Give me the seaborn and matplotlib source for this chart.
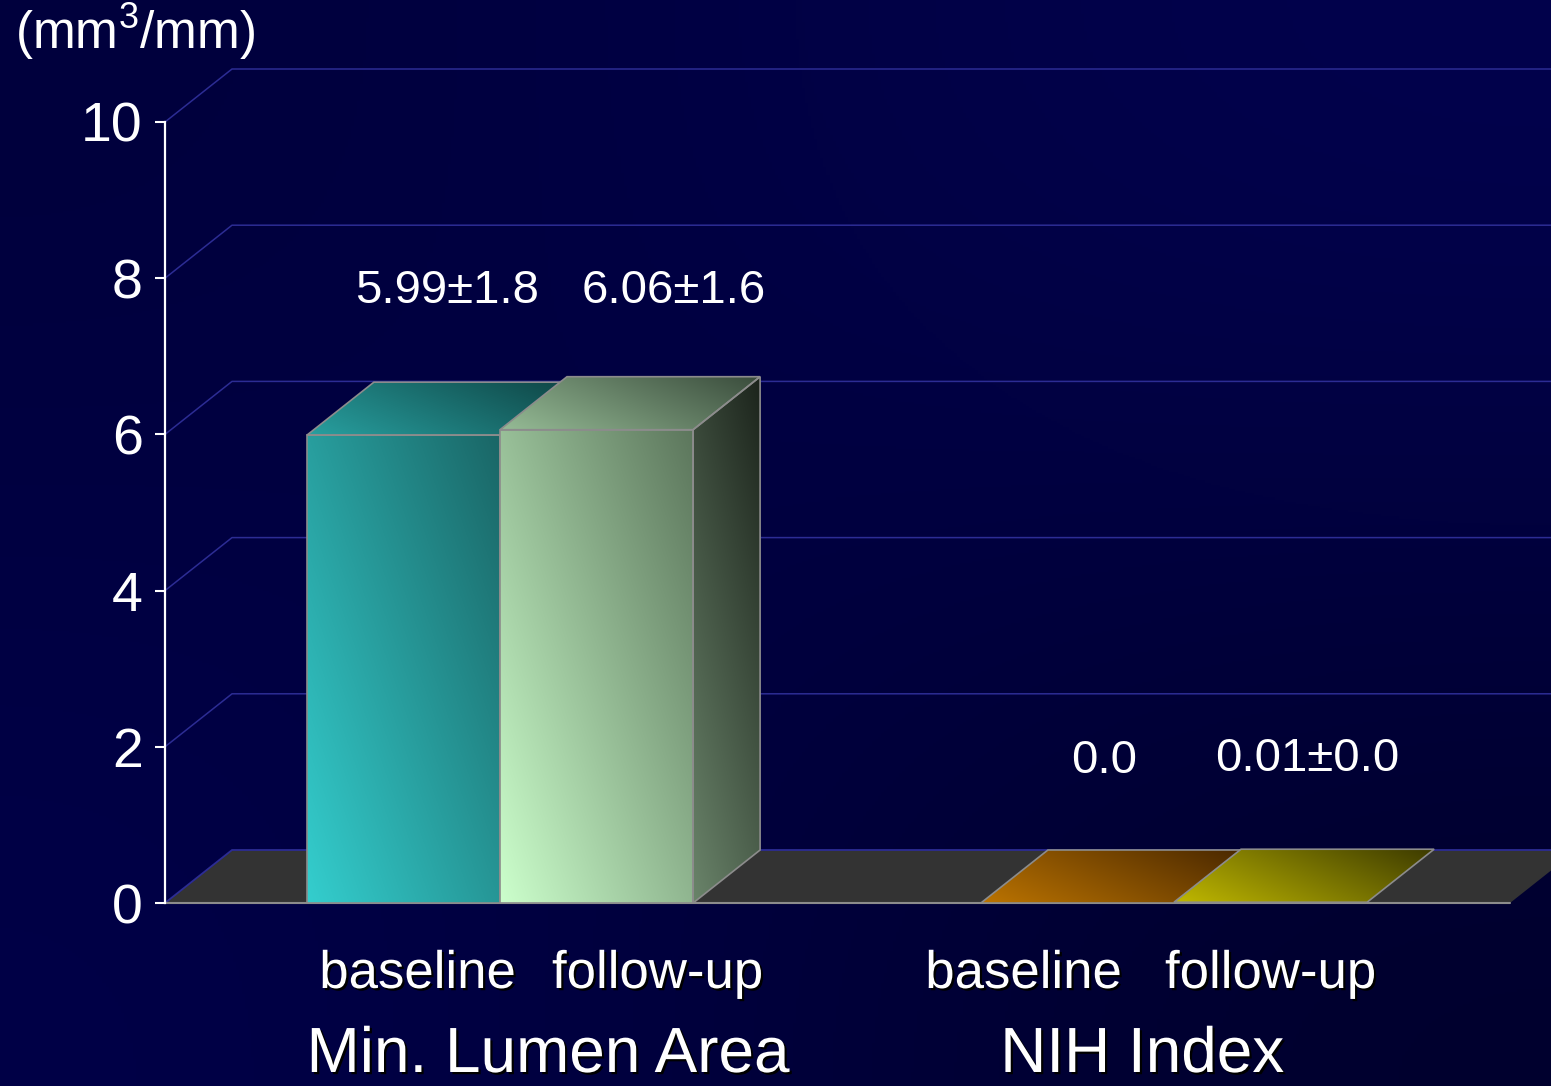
import numpy as np
import pandas as pd
import matplotlib
matplotlib.use("Agg")
import matplotlib.pyplot as plt
import matplotlib.patheffects as pe
from matplotlib.patches import Polygon, Rectangle
from matplotlib.colors import to_rgb
import seaborn as sns

# ---- data ---------------------------------------------------------------
groups = ["Min. Lumen Area", "NIH Index"]
times = ["baseline", "follow-up"]
mla_values = [5.99, 6.06]
nih_values = [0.0, 0.01]
value_labels = ["5.99\u00b11.8", "6.06\u00b11.6", "0.0", "0.01\u00b10.0"]
y_ticks = [0, 2, 4, 6, 8, 10]
unit_label = "(mm$^{3}$/mm)"

df = pd.DataFrame({
    "group": np.repeat(groups, len(times)),
    "time": times * len(groups),
    "value": mla_values + nih_values,
})

# ---- style --------------------------------------------------------------
sns.set_theme(style="white")
plt.rcParams["font.family"] = ["Liberation Sans", "DejaVu Sans"]
plt.rcParams["mathtext.fontset"] = "custom"
plt.rcParams["mathtext.rm"] = "Liberation Sans"
plt.rcParams["mathtext.default"] = "regular"

FIG_W, FIG_H = 1551, 1086
DEPTH_PX = (67, 53)            # receding offset of the pseudo-3D depth
GRID = "#2c2c94"
EDGE = "#8c8c8c"
FLOOR = "#333333"

# per-bar gradient colours (light end, dark end)
FRONT = [("#34cece", "#1a6666"), ("#ccffcc", "#5c765c"),
         ("#c47a00", "#4a2800"), ("#c4bc00", "#3a3800")]
TOP = [("#28a0a0", "#0f4646"), ("#96bc96", "#3a4c3c"),
       ("#bc7400", "#4a2800"), ("#c0b800", "#3c3a00")]
SIDE = [("#1f7a7a", "#0a3030"), ("#6a846a", "#1c241c"),
        ("#7a4a00", "#2a1600"), ("#7a7400", "#262400")]

value_nudge_px = [44, 77, 27, 37]
value_rise_px = [132, 127, 130, 131]
cat_nudge_px = [14, 61, -54, 0]
cat_drop_px = 85
group_nudge_px = [48, -32]
group_drop_px = 169

fig = plt.figure(figsize=(FIG_W / 100, FIG_H / 100), dpi=100)

# dark navy backdrop
bg = fig.add_axes([0, 0, 1, 1], zorder=-10)
bg.axis("off")
corners = np.array([[to_rgb("#00003c"), to_rgb("#02024e")],
                    [to_rgb("#000048"), to_rgb("#00002c")]])
bg.imshow(corners, extent=(0, 1, 0, 1), origin="upper", aspect="auto",
          interpolation="bicubic")

L, B = 165 / FIG_W, 183 / FIG_H
W, H = 1345 / FIG_W, 781 / FIG_H
ax = fig.add_axes([L, B, W, H])
ax.patch.set_alpha(0)

sns.barplot(data=df, x="group", y="value", hue="time", order=groups,
            hue_order=times, width=0.573, errorbar=None, legend=False,
            saturation=1, palette=[FRONT[0][0], FRONT[1][0]],
            edgecolor=EDGE, linewidth=1.2, ax=ax)
bars = sorted([p for p in ax.patches if isinstance(p, Rectangle)],
              key=lambda p: p.get_x())

XMIN, XMAX = -0.497, 1.4985
ax.set_xlim(XMIN, XMAX)
ax.set_ylim(0, 10)
ax.set_autoscale_on(False)
ax.set_xlabel("")
ax.set_ylabel("")
ax.set_xticks([])
ax.set_yticks(y_ticks)
ax.tick_params(axis="y", colors="white", labelcolor="white", labelsize=40,
               length=7.5, width=1.5, pad=8.5, left=True)
for side in ["top", "right", "bottom"]:
    ax.spines[side].set_visible(False)
ax.spines["left"].set_color("white")
ax.spines["left"].set_linewidth(1.6)
ax.spines["left"].set_zorder(6)

ppx = FIG_W * W / (XMAX - XMIN)
ppy = FIG_H * H / 10
dx, dy = DEPTH_PX[0] / ppx, DEPTH_PX[1] / ppy

# back wall grid lines and floor
for v in y_ticks[1:]:
    ax.plot([XMIN, XMIN + dx, XMAX + 3 * dx], [v, v + dy, v + dy],
            color=GRID, lw=1.1, clip_on=False, zorder=1)
ax.add_patch(Polygon([(XMIN, 0), (XMAX, 0), (XMAX + dx, dy), (XMIN + dx, dy)],
                     closed=True, fc=FLOOR, ec="none", clip_on=False, zorder=1.5))
ax.plot([XMIN, XMIN + dx, XMAX + 3 * dx], [0, dy, dy], color=GRID, lw=1.3,
        clip_on=False, zorder=1.6)
ax.plot([XMIN, XMAX], [0, 0], color=EDGE, lw=1.5, clip_on=False, zorder=1.6)


def shade(verts, c0, c1, direction, z, clip=None):
    verts = np.asarray(verts, float)
    if clip is None:
        clip = Polygon(verts, closed=True, fc="none", ec=EDGE, lw=1.2,
                       zorder=z + 0.05, clip_on=False)
        ax.add_patch(clip)
    xs = np.linspace(verts[:, 0].min(), verts[:, 0].max(), 200)
    ys = np.linspace(verts[:, 1].min(), verts[:, 1].max(), 200)
    X, Y = np.meshgrid(xs, ys)
    disp = ax.transData.transform(np.column_stack([X.ravel(), Y.ravel()]))
    d = np.asarray(direction, float)
    d /= np.linalg.norm(d)
    proj = disp @ d
    vproj = ax.transData.transform(verts) @ d
    t = ((proj - vproj.min()) / (vproj.max() - vproj.min())).clip(0, 1)
    t = t.reshape(X.shape)[..., None]
    a, b = np.array(to_rgb(c0)), np.array(to_rgb(c1))
    img = a + t * (b - a)
    im = ax.imshow(img, extent=(xs[0], xs[-1], ys[0], ys[-1]), origin="lower",
                   aspect="auto", interpolation="bilinear", zorder=z)
    im.set_clip_path(clip)


shadow = [pe.withSimplePatchShadow(offset=(1.6, -1.6), shadow_rgbFace="black",
                                   alpha=1.0)]

for i, p in enumerate(bars):
    x0, w, h = p.get_x(), p.get_width(), p.get_height()
    x1 = x0 + w
    z = 3 + i * 0.2
    if h > 0.05:
        p.set_facecolor("none")
        p.set_zorder(z + 0.05)
        shade([(x0, 0), (x1, 0), (x1, h), (x0, h)], *FRONT[i], (1, 0.35), z, clip=p)
        shade([(x1, 0), (x1 + dx, dy), (x1 + dx, h + dy), (x1, h)],
              *SIDE[i], (1, 0.25), z)
    else:
        p.set_visible(False)
    shade([(x0, h), (x1, h), (x1 + dx, h + dy), (x0 + dx, h + dy)],
          *TOP[i], (0.45, 1), z)

    xc = x0 + w / 2
    ax.annotate(value_labels[i], xy=(xc, h),
                xytext=(value_nudge_px[i] * 0.72, value_rise_px[i] * 0.72),
                textcoords="offset points", ha="center", va="baseline",
                fontsize=34, color="white", annotation_clip=False, zorder=8)
    ax.annotate(times[i % 2], xy=(xc, 0),
                xytext=(cat_nudge_px[i] * 0.72, -cat_drop_px * 0.72),
                textcoords="offset points", ha="center", va="baseline",
                fontsize=38, color="white", annotation_clip=False, zorder=8,
                path_effects=shadow)

for g, name in enumerate(groups):
    ax.annotate(name, xy=(g, 0),
                xytext=(group_nudge_px[g] * 0.72, -group_drop_px * 0.72),
                textcoords="offset points", ha="center", va="baseline",
                fontsize=46, color="white", annotation_clip=False, zorder=8,
                path_effects=shadow)

fig.text(15 / FIG_W, 1 - 32 / FIG_H, unit_label, ha="left", va="center",
         fontsize=37, color="white")

fig.savefig("out.png", dpi=100)
